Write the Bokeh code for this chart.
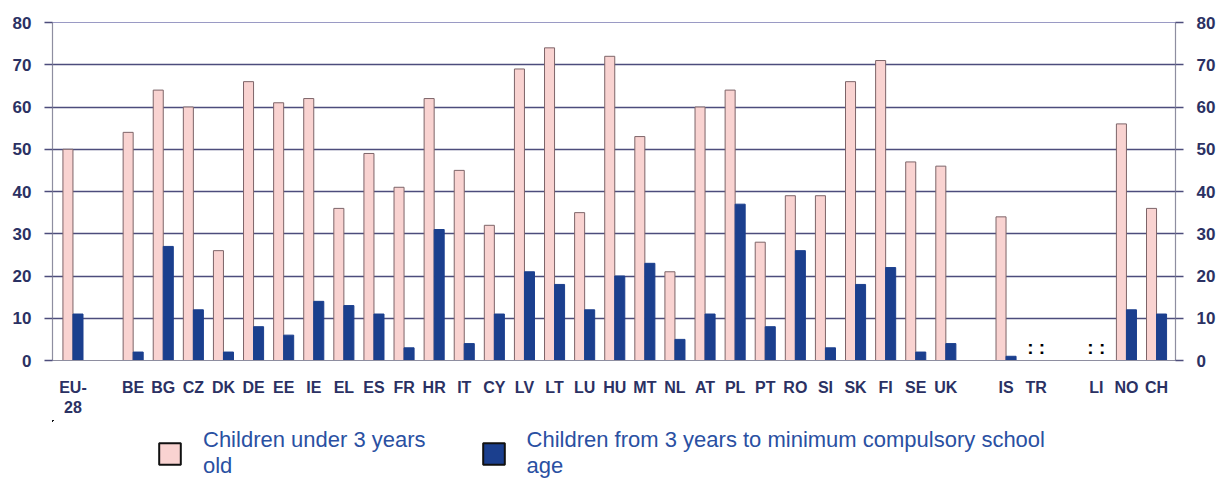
import math
from bokeh.plotting import figure
from bokeh.layouts import column
from bokeh.models import (ColumnDataSource, Legend, LegendItem, FixedTicker,
                          LinearAxis, Range1d)
from bokeh.transform import dodge
from bokeh.core.properties import value
from bokeh.embed import file_html
from bokeh.resources import INLINE

# ---- data -------------------------------------------------------------
groups = [
    ["EU-28"],
    ["BE", "BG", "CZ", "DK", "DE", "EE", "IE", "EL", "ES", "FR", "HR", "IT",
     "CY", "LV", "LT", "LU", "HU", "MT", "NL", "AT", "PL", "PT", "RO", "SI",
     "SK", "FI", "SE", "UK"],
    ["IS", "TR"],
    ["LI", "NO", "CH"],
]
under3 = [50,
          54, 64, 60, 26, 66, 61, 62, 36, 49, 41, 62, 45,
          32, 69, 74, 35, 72, 53, 21, 60, 64, 28, 39, 39,
          66, 71, 47, 46,
          34, None,
          None, 56, 36]
from3 = [11,
         2, 27, 12, 2, 8, 6, 14, 13, 11, 3, 31, 4,
         11, 21, 18, 12, 20, 23, 5, 11, 37, 8, 26, 3,
         18, 22, 2, 4,
         1, None,
         None, 12, 11]
tick_labels = {"EU-28": "EU-\n28"}
y_ticks = [0, 10, 20, 30, 40, 50, 60, 70, 80]
series_names = ["Children under 3 years\nold",
                "Children from 3 years to minimum compulsory school\nage"]

# ---- slot positions (one empty slot between groups) --------------------
cats, slots = [], []
pos = 0
for g in groups:
    for c in g:
        cats.append(c)
        slots.append(pos)
        pos += 1
    pos += 1

ok = [i for i in range(len(cats)) if under3[i] is not None]
missing = [i for i in range(len(cats)) if under3[i] is None]
src = ColumnDataSource(dict(
    x=[slots[i] for i in ok],
    a=[under3[i] for i in ok],
    b=[from3[i] for i in ok],
))
msrc = ColumnDataSource(dict(x=[slots[i] for i in missing],
                             y=[0] * len(missing),
                             t=[": :"] * len(missing)))

GRID = "#4d4d7c"
AXIS = "#8e8ea0"
LABEL = "#2b3163"
FONT = "Liberation Sans"
PINK = "#f9d3d1"
BLUE = "#1b3f8e"

p = figure(width=1227, height=420, output_backend="svg",
           toolbar_location=None,
           x_range=Range1d(-0.68, slots[-1] + 0.63), y_range=Range1d(0, 80),
           min_border_left=52, min_border_right=52, min_border_top=22,
           min_border_bottom=60)
p.background_fill_color = "white"
p.outline_line_color = "#9a9ac4"
p.outline_line_width = 1
p.xgrid.grid_line_color = None
p.ygrid.ticker = FixedTicker(ticks=y_ticks)
p.ygrid.grid_line_color = GRID
p.ygrid.grid_line_width = 1.6

bw = 1 / 3
r1 = p.vbar(x=dodge("x", -bw / 2, range=p.x_range), top="a", width=bw,
            bottom=0, source=src, fill_color=PINK,
            line_color="#7d6468", line_width=1)
r2 = p.vbar(x=dodge("x", bw / 2, range=p.x_range), top="b", width=bw,
            bottom=0, source=src, fill_color=BLUE,
            line_color=BLUE, line_width=1)
p.text(x="x", y="y", text="t", source=msrc, text_align="center",
       text_baseline="bottom", y_offset=-3, text_font=value("Liberation Sans"),
       text_font_style="bold", text_font_size="19px", text_color="#000000")

# axes
p.yaxis.ticker = FixedTicker(ticks=y_ticks)
ry = LinearAxis(ticker=FixedTicker(ticks=y_ticks))
p.add_layout(ry, "right")
for ax in [p.yaxis[0], ry]:
    ax.axis_line_color = AXIS
    ax.axis_line_width = 1.2
    ax.major_tick_line_color = GRID
    ax.major_tick_line_width = 1.6
    ax.major_tick_out = 8
    ax.major_tick_in = 0
    ax.minor_tick_line_color = None
    ax.major_label_standoff = 13
    ax.major_label_text_font = FONT
    ax.major_label_text_font_style = "bold"
    ax.major_label_text_font_size = "17px"
    ax.major_label_text_color = LABEL

xa = p.xaxis[0]
xa.ticker = FixedTicker(ticks=slots)
xa.major_label_overrides = {s: tick_labels.get(c, c) for s, c in zip(slots, cats)}
xa.axis_line_color = AXIS
xa.axis_line_width = 1.2
xa.major_tick_line_color = None
xa.minor_tick_line_color = None
xa.major_label_standoff = 12
xa.major_label_text_font = FONT
xa.major_label_text_font_style = "bold"
xa.major_label_text_font_size = "16px"
xa.major_label_text_color = LABEL

# ---- legend strip below the chart ---------------------------------------
# The strip hosts the same series, but its view window lies far outside the
# data, so only the legend swatches are visible there.
lg = figure(width=1227, height=59, output_backend="svg", toolbar_location=None,
            x_axis_type=None, y_axis_type=None, min_border=0,
            x_range=Range1d(1000, 1001), y_range=Range1d(-1001, -1000))
lg.outline_line_color = None
lg.grid.grid_line_color = None
k1 = lg.vbar(x="x", top="a", bottom=0, width=bw, source=src,
             fill_color=PINK, line_color="#111111", line_width=2)
k2 = lg.vbar(x="x", top="b", bottom=0, width=bw, source=src,
             fill_color=BLUE, line_color="#111111", line_width=2)
legend = Legend(items=[LegendItem(label=series_names[0], renderers=[k1]),
                       LegendItem(label=series_names[1], renderers=[k2])],
                orientation="horizontal", location=(104, 0))
legend.glyph_width = 27
legend.glyph_height = 27
legend.label_standoff = 20
legend.spacing = 54
legend.padding = 0
legend.margin = 0
legend.border_line_color = None
legend.background_fill_color = None
legend.label_text_font = "Liberation Sans"
legend.label_text_font_size = "22px"
legend.label_text_color = "#2a50a2"
lg.add_layout(legend, "center")

open("out.html", "w").write(file_html(column(p, lg, spacing=0), INLINE))
